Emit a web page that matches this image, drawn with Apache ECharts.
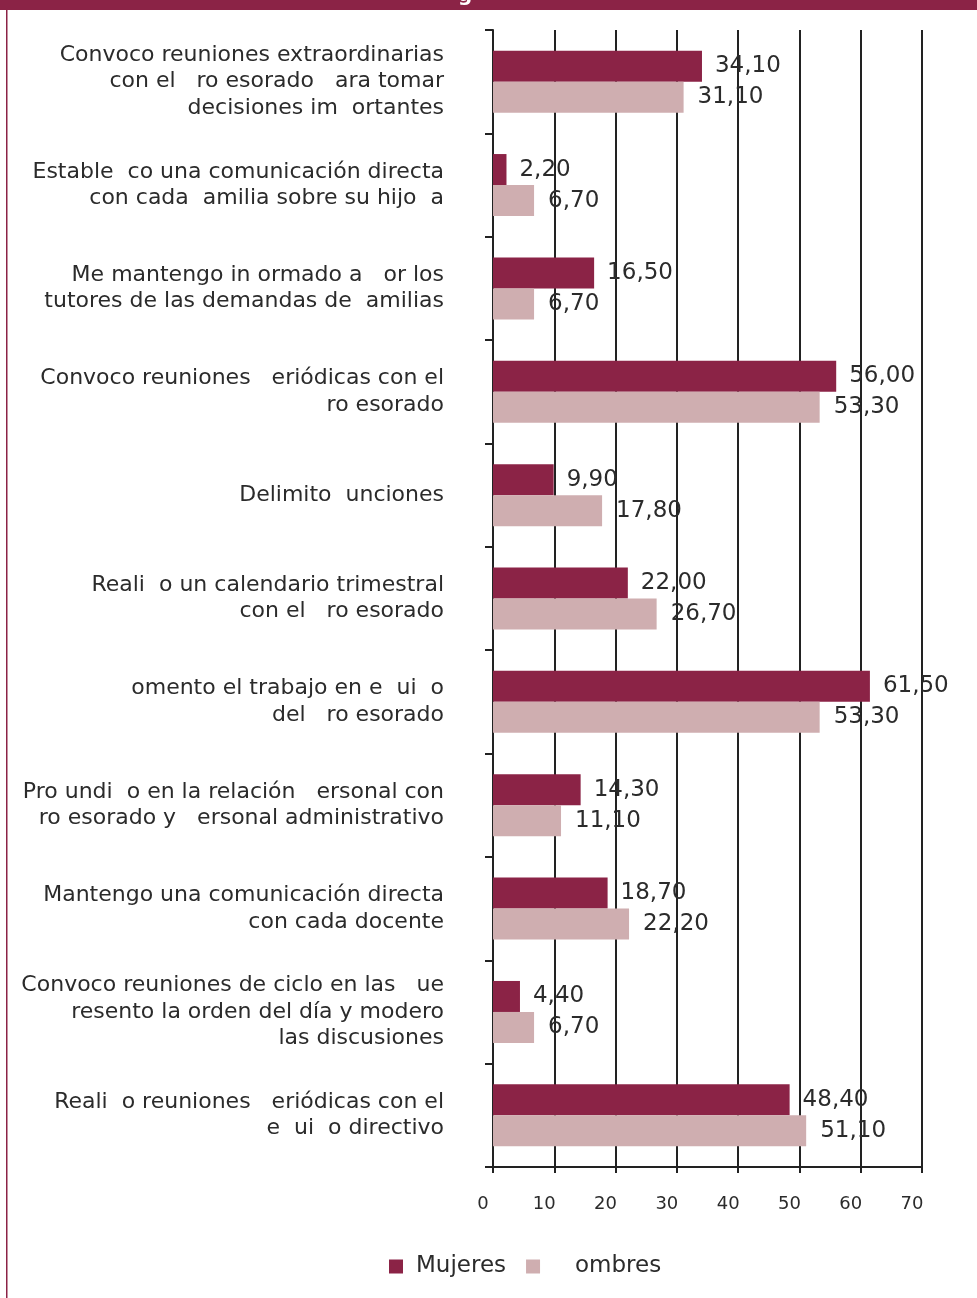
<!DOCTYPE html>
<html><head><meta charset="utf-8">
<script src="https://cdn.jsdelivr.net/npm/echarts@6/dist/echarts.min.js"></script>
<style>html,body{margin:0;padding:0;background:#fff}#c{width:977px;height:1298px}</style>
</head><body><div id="c"></div>
<script>
const categories = [
  "Convoco reuniones extraordinarias\ncon el   ro esorado   ara tomar\ndecisiones im  ortantes",
  "Estable  co una comunicación directa\ncon cada  amilia sobre su hijo  a",
  "Me mantengo in ormado a   or los\ntutores de las demandas de  amilias",
  "Convoco reuniones   eriódicas con el\nro esorado",
  "Delimito  unciones",
  "Reali  o un calendario trimestral\ncon el   ro esorado",
  "omento el trabajo en e  ui  o\ndel   ro esorado",
  "Pro undi  o en la relación   ersonal con\nro esorado y   ersonal administrativo",
  "Mantengo una comunicación directa\ncon cada docente",
  "Convoco reuniones de ciclo en las   ue\nresento la orden del día y modero\nlas discusiones",
  "Reali  o reuniones   eriódicas con el\ne  ui  o directivo"
];
const mujeres = [34.10, 2.20, 16.50, 56.00, 9.90, 22.00, 61.50, 14.30, 18.70, 4.40, 48.40];
const hombres = [31.10, 6.70, 6.70, 53.30, 17.80, 26.70, 53.30, 11.10, 22.20, 6.70, 51.10];
const seriesNames = ["Mujeres", "Hombres"];
const legendLabels = {"Mujeres": "Mujeres", "Hombres": "   ombres"};

const MAROON = '#8B2346', PINK = '#CFAEB0', TEXT = '#2b2b2b';
const FONT = '"DejaVu Sans", sans-serif';
const fmt = p => p.value.toFixed(2).replace('.', ',');

const chart = echarts.init(document.getElementById('c'), null, {renderer: 'canvas'});
chart.setOption({
  animation: false,
  backgroundColor: '#fff',
  textStyle: {fontFamily: FONT},
  grid: {left: 493, right: 55, top: 30, bottom: 131},
  xAxis: {
    type: 'value', min: 0, max: 70, interval: 10,
    axisLine: {show: true, lineStyle: {color: '#222', width: 2}},
    axisTick: {show: true, length: 6, lineStyle: {color: '#222', width: 2}},
    axisLabel: {color: TEXT, fontSize: 18, fontFamily: FONT, margin: 28, padding: [0, 20, 0, 0]},
    splitLine: {show: true, lineStyle: {color: '#222', width: 2}}
  },
  yAxis: {
    type: 'category', data: categories, inverse: true,
    axisLine: {show: true, lineStyle: {color: '#222', width: 2}},
    axisTick: {show: true, length: 8, lineStyle: {color: '#222', width: 2}},
    axisLabel: {color: TEXT, fontSize: 22, fontFamily: FONT, margin: 49, lineHeight: 26.5, align: 'right'}
  },
  legend: {
    bottom: 15, left: 384, itemWidth: 14, itemHeight: 14, itemGap: 20,
    icon: 'rect',
    textStyle: {color: TEXT, fontSize: 23, fontFamily: FONT, padding: [0, 0, 0, 8]},
    formatter: n => legendLabels[n],
    data: seriesNames
  },
  series: [
    {name: seriesNames[0], type: 'bar', data: mujeres, barWidth: 31, barGap: '0%',
     itemStyle: {color: MAROON},
     label: {show: true, position: 'right', distance: 13, color: TEXT, fontSize: 23, fontFamily: FONT, formatter: fmt}},
    {name: seriesNames[1], type: 'bar', data: hombres, barWidth: 31, barGap: '0%',
     itemStyle: {color: PINK},
     label: {show: true, position: 'right', distance: 14, color: TEXT, fontSize: 23, fontFamily: FONT, formatter: fmt}}
  ],
  graphic: [
    {type: 'rect', left: 0, top: 0, shape: {width: 977, height: 10}, style: {fill: MAROON}, z: 100},
    {type: 'rect', left: 6, top: 10, shape: {width: 1.5, height: 1288}, style: {fill: MAROON}, z: 100},
    {type: 'text', x: 458, y: -14, style: {text: 'g', fill: '#fff', font: 'bold 20px ' + FONT}, z: 101}
  ]
});
</script></body></html>
